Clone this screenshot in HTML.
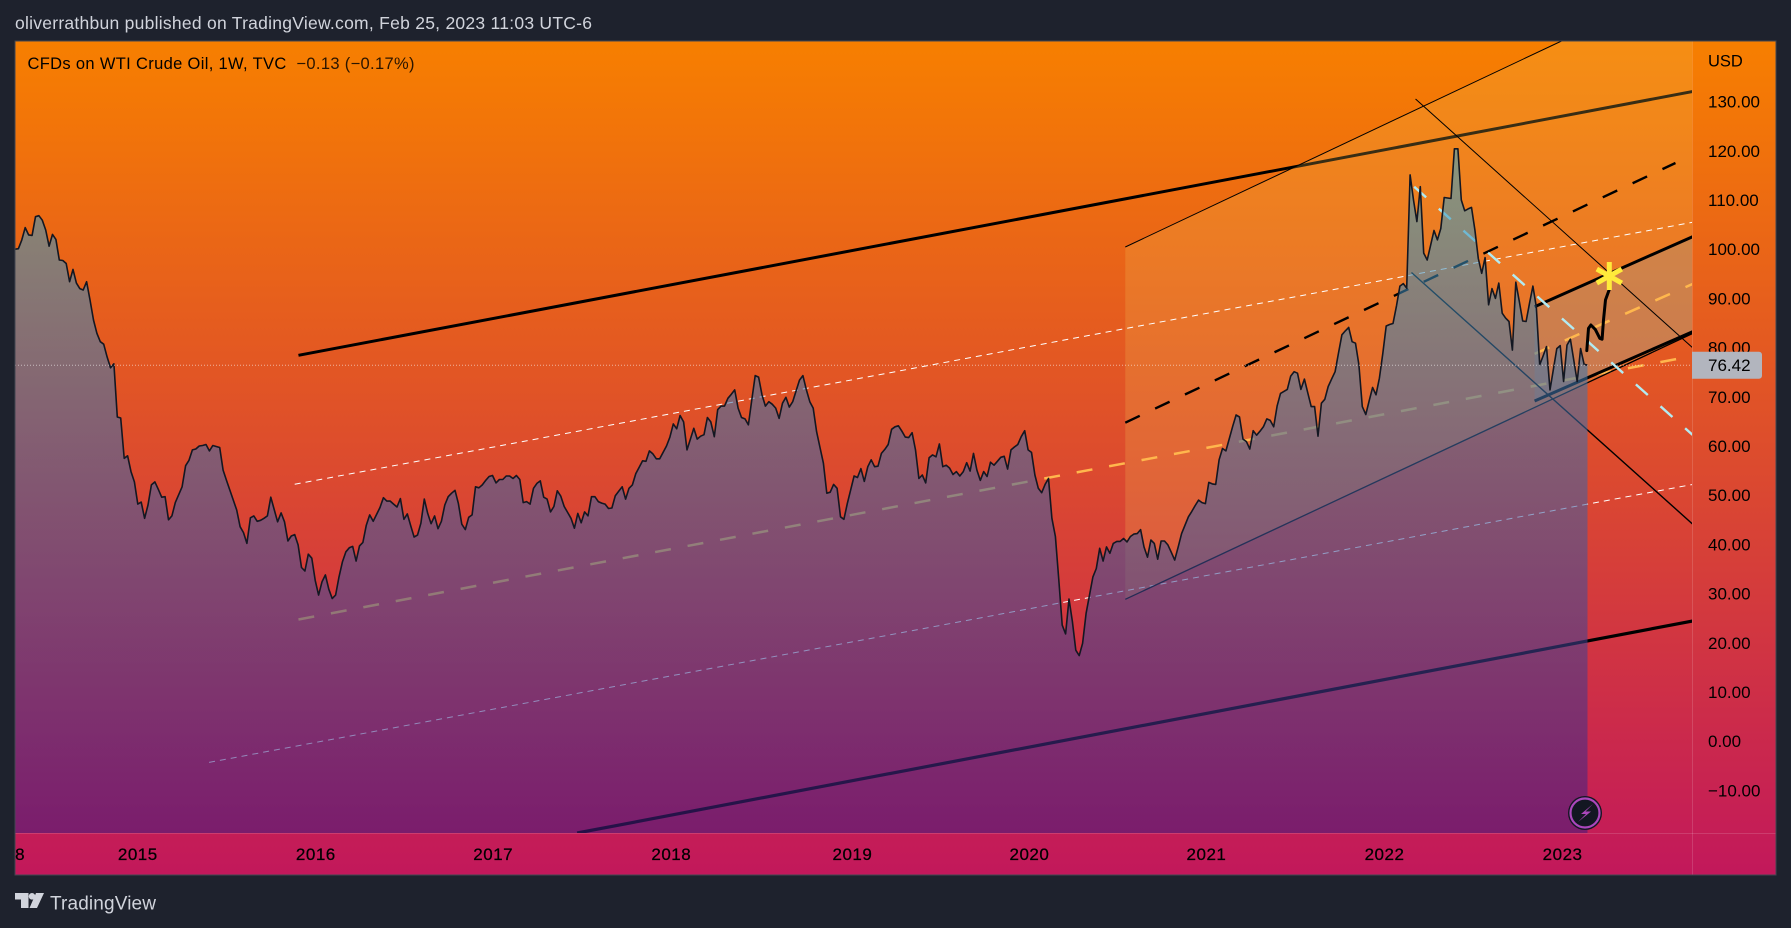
<!DOCTYPE html>
<html lang="en">
<head>
<meta charset="utf-8">
<title>CFDs on WTI Crude Oil, 1W, TVC</title>
<style>
  html, body { margin: 0; padding: 0; background: #1e222d; width: 1791px; height: 928px; overflow: hidden; }
  svg { display: block; font-family: "Liberation Sans", "DejaVu Sans", sans-serif; }
</style>
</head>
<body>
<svg id="chart" xmlns="http://www.w3.org/2000/svg" width="1791" height="928" viewBox="0 0 1791 928">
  <defs>
    <linearGradient id="paneGrad" gradientUnits="userSpaceOnUse" x1="0" y1="41" x2="0" y2="875">
      <stop offset="0" stop-color="#f77f00"/>
      <stop offset="1" stop-color="#c2185b"/>
    </linearGradient>
    <linearGradient id="areaGrad" gradientUnits="userSpaceOnUse" x1="0" y1="120" x2="0" y2="833">
      <stop offset="0" stop-color="rgb(60,170,200)" stop-opacity="0.57"/>
      <stop offset="1" stop-color="rgb(67,28,125)" stop-opacity="0.57"/>
    </linearGradient>
    <clipPath id="plotClip"><rect x="15" y="41" width="1677" height="792"/></clipPath>
  </defs>

  <rect x="0" y="0" width="1791" height="928" fill="#1e222d"/>
  <text x="15" y="29" font-size="17.5" fill="#d1d4dc" textLength="577" lengthAdjust="spacing">oliverrathbun published on TradingView.com, Feb 25, 2023 11:03 UTC-6</text>

  <rect x="15" y="41" width="1761" height="834" fill="url(#paneGrad)"/>

  <g id="plot" clip-path="url(#plotClip)">
    <g id="layerBelow"></g>
    <g id="layerOverlay"></g>
    <g id="layerLines"></g>
    <path id="areaFill" fill="url(#areaGrad)" stroke="none"/>
    <path id="priceLine" fill="none" stroke="#131722" stroke-width="1.6" stroke-linejoin="round"/>
    <line id="lastPriceLine" stroke="#ffffff" stroke-opacity="0.55" stroke-width="1" stroke-dasharray="1 2"/>
    <path id="brush" fill="none" stroke="#000000" stroke-width="3" stroke-linecap="round" stroke-linejoin="round"/>
    <g id="star"></g>
  </g>

  <line x1="1692.5" y1="41" x2="1692.5" y2="875" stroke="#ffffff" stroke-opacity="0.14"/>
  <line x1="15" y1="833.5" x2="1776" y2="833.5" stroke="#ffffff" stroke-opacity="0.14"/>
  <rect x="15" y="41" width="1761" height="834" fill="none" stroke="#434651" stroke-width="1"/>

  <text x="27.5" y="69" font-size="16.5" fill="#000000" textLength="387" lengthAdjust="spacing">CFDs on WTI Crude Oil, 1W, TVC<tspan fill="#2a1500" xml:space="preserve">  −0.13 (−0.17%)</tspan></text>
  <text x="1708" y="66.5" font-size="16.5" fill="#000000">USD</text>
  <g id="priceAxis"></g>
  <g id="timeAxis"></g>

  <g id="lastPriceTag">
    <path id="lastPriceBox" fill="#b2b5be"/>
    <text id="lastPriceText" x="1708" font-size="17" fill="#000000"></text>
  </g>

  <g>
    <circle cx="1585" cy="813" r="17" fill="#131722"/>
    <circle cx="1585" cy="813" r="14.5" fill="#131722" stroke="#ab47bc" stroke-width="2.2"/>
    <polygon points="1593,804 1581,814 1586,814 1578,822 1591,811.5 1585.5,811.5" fill="#ab47bc"/>
  </g>

  <g>
    <path d="M15 893H28.5V908H21V899.5H15Z" fill="#d1d4dc"/>
    <circle cx="32" cy="896.3" r="3.3" fill="#d1d4dc"/>
    <path d="M36 893H44L37 908H29.5Z" fill="#d1d4dc"/>
    <text x="50" y="909.5" font-size="19" fill="#d1d4dc" textLength="106" lengthAdjust="spacing">TradingView</text>
  </g>
</svg>

<script>
// Weekly closes in USD, oldest first; ten weeks per row
const closes = [
  100.0,100.1,101.9,104.4,102.9,102.8,106.6,106.8,105.9,103.9,
  100.6,103.0,102.0,97.8,97.7,97.1,93.4,95.9,93.1,92.0,
  91.7,93.4,89.7,85.6,82.9,81.2,80.7,78.1,75.9,76.7,
  65.9,65.7,57.5,58.0,54.8,52.7,48.2,48.6,45.3,48.0,
  52.1,52.7,51.2,49.6,49.7,45.0,45.8,48.5,50.1,51.7,
  56.0,57.1,59.2,59.4,60.0,60.1,60.3,59.0,60.1,59.9,
  59.7,55.1,53.0,51.0,49.0,47.0,43.6,42.4,40.2,45.4,
  45.8,44.7,44.9,45.3,45.8,49.6,47.1,44.6,46.4,44.6,
  40.7,41.7,42.0,39.9,35.3,34.6,38.0,37.2,32.7,29.7,
  32.4,33.8,30.9,29.0,29.7,33.4,36.5,38.5,39.3,39.6,
  36.6,39.7,40.4,43.9,46.0,44.7,46.1,47.5,49.5,48.8,
  48.8,48.2,47.6,49.3,45.1,46.2,43.8,41.5,41.9,44.3,
  49.2,46.3,44.2,45.8,43.2,44.7,48.0,49.7,50.4,51.0,
  48.3,44.1,43.0,45.5,46.0,51.7,51.5,52.1,53.0,53.8,
  54.0,52.5,53.2,53.2,53.9,53.9,53.4,54.0,53.2,48.5,
  48.7,48.2,51.4,52.4,52.9,49.6,49.2,46.6,47.7,50.9,
  49.8,47.7,46.5,45.3,43.3,46.3,44.4,46.6,45.8,49.7,
  49.7,48.7,48.4,48.2,47.3,47.4,49.9,50.8,51.7,49.2,
  51.4,52.1,54.4,55.7,57.0,56.9,59.0,58.4,57.4,57.4,
  58.7,60.0,61.8,64.5,63.5,66.2,64.9,59.2,61.4,63.6,
  61.4,62.0,62.3,65.8,64.9,61.9,67.4,68.1,68.1,69.7,
  70.5,71.4,67.7,65.8,65.5,64.3,69.4,74.3,74.0,70.4,
  68.1,69.0,68.5,67.7,65.6,68.7,69.9,67.9,69.0,71.2,
  73.4,74.3,71.4,69.0,67.7,62.9,59.7,56.5,50.4,50.6,
  52.2,51.4,45.6,45.1,48.3,51.1,53.9,53.6,55.4,52.8,
  55.8,57.2,55.8,55.9,58.5,59.3,60.3,63.4,63.9,64.1,
  63.0,61.8,61.7,62.7,59.2,53.4,54.1,52.5,57.6,58.2,
  57.8,60.4,55.8,56.1,55.5,54.2,54.8,53.9,54.8,56.6,
  54.9,58.5,55.1,53.0,54.8,53.8,56.7,56.1,56.9,57.7,
  57.9,55.3,59.2,59.8,60.3,61.9,63.1,59.2,58.7,54.1,
  51.4,50.5,52.2,53.4,45.3,41.6,32.8,23.6,21.8,28.9,
  24.3,18.5,17.4,19.9,26.0,29.7,33.4,35.1,39.2,36.6,
  39.5,38.2,40.2,40.6,40.6,41.2,40.5,41.6,42.1,42.2,
  43.0,39.5,37.4,40.9,40.2,37.0,40.7,40.7,39.9,38.4,
  36.8,39.5,42.2,43.9,45.6,46.7,47.9,49.0,48.5,48.3,
  52.6,52.3,52.2,57.2,59.5,59.0,61.5,64.0,66.3,65.9,
  61.4,60.9,59.4,63.1,62.2,63.0,63.9,65.5,65.2,63.9,
  68.1,70.7,71.1,71.5,74.2,75.1,74.8,71.5,73.6,70.8,
  68.0,68.0,62.0,68.7,69.5,72.1,73.6,75.1,78.9,82.6,
  83.4,84.1,81.2,80.9,76.5,68.0,66.4,69.2,71.9,70.4,
  73.8,78.8,84.4,84.7,84.9,88.5,92.5,93.0,92.1,115.1,
  110.0,105.6,112.7,99.2,97.8,100.8,103.8,101.9,104.2,110.5,
  110.4,110.3,120.4,120.4,110.0,107.8,108.2,108.5,103.9,98.1,
  95.1,98.3,88.7,92.0,90.0,93.1,87.0,86.0,85.3,79.5,
  93.3,89.4,85.4,85.3,89.0,92.5,88.3,76.5,78.3,80.2,
  71.4,75.6,79.8,80.4,73.1,80.5,81.7,77.4,73.1,79.8,
  76.6,76.42
];

// Axis ticks
const priceTicks = [130, 120, 110, 100, 90, 80, 70, 60, 50, 40, 30, 20, 10, 0, -10];
const yearLabels = ["8", "2015", "2016", "2017", "2018", "2019", "2020", "2021", "2022", "2023"];
const yearWeeks = [1.5, 36, 88.2, 140.2, 192.4, 245.5, 297.4, 349.3, 401.5, 453.7];

// Drawings: [start week, start USD, end week, end USD]
const upperTrend = [83.1, 78.43, 491.8, 132.05];
const lowerTrend = [164.8, -18.66, 491.8, 24.43];
const medianDashed = [83.1, 24.74, 491.8, 78.29];
const upperDotted = [82.0, 52.22, 491.8, 105.47];
const lowerDotted = [56.9, -4.31, 491.8, 52.18];
const channelTop = [325.5, 100.45, 453.4, 142.32];
const channelMid = [325.5, 64.74, 486.8, 117.52];
const channelBottom = [325.5, 28.84, 491.8, 82.87];
const innerTop = [445.5, 88.31, 491.8, 102.54];
const innerMid = [445.5, 78.73, 491.8, 92.93];
const innerBottom = [445.5, 69.15, 491.8, 83.23];
const crossUpper = [410.6, 130.53, 491.8, 79.98];
const crossLower = [409.4, 95.26, 491.8, 44.15];
const crossDashed = [410.2, 112.7, 491.8, 62.26];

// Hand-drawn forecast stroke and its target
const brushWeeks = [460.8, 461.3, 462.0, 463.3, 464.6, 465.3, 465.7, 466.3, 467.5];
const brushPrices = [79.4, 83.9, 84.6, 83.7, 81.9, 81.7, 85.6, 89.7, 92.0];
const targetWeek = 467.4;
const targetPrice = 94.55;

// Axis functions
function xOf(week) { return 15 + 3.411 * week; }
function yOf(price) { return 101.6 + (130 - price) * 4.92; }

const NS = "http://www.w3.org/2000/svg";
const layerBelow = document.getElementById("layerBelow");
const layerOverlay = document.getElementById("layerOverlay");
const layerLines = document.getElementById("layerLines");

function drawSegment(parent, name, seg, color, width, dash) {
  const el = document.createElementNS(NS, "line");
  
  
  el.setAttribute("x1", xOf(seg[0]));
  el.setAttribute("y1", yOf(seg[1]));
  el.setAttribute("x2", xOf(seg[2]));
  el.setAttribute("y2", yOf(seg[3]));
  el.setAttribute("stroke", color);
  el.setAttribute("stroke-width", width);
  if (dash) el.setAttribute("stroke-dasharray", dash);
  parent.appendChild(el);
}

function drawBand(name, top, bottom, fill) {
  const el = document.createElementNS(NS, "polygon");
  
  
  const pts = [
    [xOf(top[0]), yOf(top[1])],
    [xOf(top[2]), yOf(top[3])],
    [xOf(bottom[2]), yOf(top[3])],
    [xOf(bottom[2]), yOf(bottom[3])],
    [xOf(bottom[0]), yOf(bottom[1])]
  ];
  el.setAttribute("points", pts.map(p => p.join(",")).join(" "));
  el.setAttribute("fill", fill);
  layerOverlay.appendChild(el);
}

// Long trend lines sit under the channel fill
drawSegment(layerBelow, "upper-trend-line", upperTrend, "#000000", 3);
drawSegment(layerBelow, "lower-trend-line", lowerTrend, "#000000", 3.2);

// Channel fills
drawBand("outer-channel-fill", channelTop, channelBottom, "rgba(240,195,87,0.23)");
drawBand("inner-channel-fill", innerTop, innerBottom, "rgba(100,170,210,0.2)");

// Remaining drawings
drawSegment(layerLines, "upper-dotted-line", upperDotted, "#ffffff", 1, "6 5");
drawSegment(layerLines, "lower-dotted-line", lowerDotted, "#ffffff", 1, "6 5");
drawSegment(layerLines, "median-dashed-line", medianDashed, "#ffb74d", 2.5, "16 17");
drawSegment(layerLines, "channel-top-line", channelTop, "#000000", 1);
drawSegment(layerLines, "channel-mid-dashed-line", channelMid, "#000000", 2.4, "16 17");
drawSegment(layerLines, "channel-bottom-line", channelBottom, "#000000", 1.3);
drawSegment(layerLines, "inner-top-line", innerTop, "#000000", 3);
drawSegment(layerLines, "inner-mid-dashed-line", innerMid, "#ffb74d", 2.5, "16 17");
drawSegment(layerLines, "inner-bottom-line", innerBottom, "#000000", 3);
drawSegment(layerLines, "cross-upper-line", crossUpper, "#000000", 1);
drawSegment(layerLines, "cross-lower-line", crossLower, "#000000", 1.4);
drawSegment(layerLines, "cross-dashed-line", crossDashed, "#b2ebf2", 2.4, "16 17");

// Price series
const linePath = closes.map((c, i) => (i ? "L" : "M") + xOf(i).toFixed(1) + " " + yOf(c).toFixed(1)).join("");
const lastIdx = closes.length - 1;
document.getElementById("priceLine").setAttribute("d", linePath);
document.getElementById("areaFill").setAttribute("d", linePath + "L" + xOf(lastIdx).toFixed(1) + " 833L" + xOf(0).toFixed(1) + " 833Z");

// Last price line and tag
const lastClose = closes[lastIdx];
const lastY = yOf(lastClose);
const lastLine = document.getElementById("lastPriceLine");
lastLine.setAttribute("x1", 15);
lastLine.setAttribute("x2", 1692);
lastLine.setAttribute("y1", lastY);
lastLine.setAttribute("y2", lastY);
document.getElementById("lastPriceBox").setAttribute("d",
  "M1692 " + (lastY - 13.5) + "H1759a3 3 0 0 1 3 3V" + (lastY + 10.5) + "a3 3 0 0 1 -3 3H1692Z");
const lastText = document.getElementById("lastPriceText");
lastText.setAttribute("y", lastY + 6);
lastText.textContent = lastClose.toFixed(2);

// Forecast stroke
document.getElementById("brush").setAttribute("d",
  brushWeeks.map((w, i) => (i ? "L" : "M") + xOf(w).toFixed(1) + " " + yOf(brushPrices[i]).toFixed(1)).join(""));

// Target star: three strokes through the target point
const starGroup = document.getElementById("star");
[[0, 14], [12.5, 7], [12.5, -7]].forEach(function (arm) {
  const el = document.createElementNS(NS, "line");
  
  
  el.setAttribute("x1", xOf(targetWeek) - arm[0]);
  el.setAttribute("y1", yOf(targetPrice) - arm[1]);
  el.setAttribute("x2", xOf(targetWeek) + arm[0]);
  el.setAttribute("y2", yOf(targetPrice) + arm[1]);
  el.setAttribute("stroke", "#ffeb3b");
  el.setAttribute("stroke-width", 5);
  starGroup.appendChild(el);
});

// Price axis labels
const priceAxis = document.getElementById("priceAxis");
priceTicks.forEach(function (p) {
  const el = document.createElementNS(NS, "text");
  
  
  el.setAttribute("x", 1708);
  el.setAttribute("y", yOf(p) + 6);
  el.setAttribute("font-size", 17);
  el.setAttribute("fill", "#000000");
  el.textContent = (p < 0 ? "\u2212" : "") + Math.abs(p).toFixed(2);
  priceAxis.appendChild(el);
});

// Time axis labels
const timeAxis = document.getElementById("timeAxis");
yearLabels.forEach(function (label, i) {
  const el = document.createElementNS(NS, "text");
  
  
  el.setAttribute("x", xOf(yearWeeks[i]));
  el.setAttribute("y", 860);
  el.setAttribute("font-size", 17);
  el.setAttribute("letter-spacing", "0.5");
  el.setAttribute("text-anchor", "middle");
  el.setAttribute("fill", "#000000");
  el.setAttribute("stroke", "#000000");
  el.setAttribute("stroke-width", "0.25");
  el.textContent = label;
  timeAxis.appendChild(el);
});
</script>
</body>
</html>
